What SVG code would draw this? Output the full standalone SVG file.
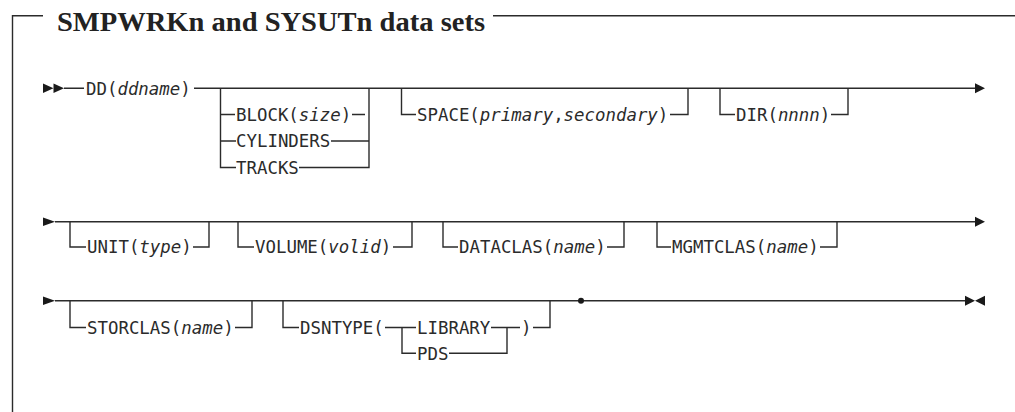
<svg xmlns="http://www.w3.org/2000/svg" width="1015" height="412" viewBox="0 0 1015 412">
<style>
.ln{fill:none;stroke:#2b2b2b;stroke-width:1.4}
.ah{fill:#1a1a1a;stroke:none}
.t{font-family:"DejaVu Sans Mono","Liberation Mono",monospace;font-size:17.4px;fill:#2b2b2b}
.i{font-style:italic}
.title{font-family:"Liberation Serif","DejaVu Serif",serif;font-weight:bold;font-size:27px;fill:#222}
</style>
<rect width="1015" height="412" fill="#fff"/>
<g id="frame">
<path class="ln" d="M12.5 412 V15.7 H43 M493 15.7 H1015"/>
<text class="title" x="57" y="30.5" textLength="428" lengthAdjust="spacingAndGlyphs">SMPWRKn and SYSUTn data sets</text>
</g>
<g id="connectors">
<polygon class="ah" points="43,83.5 53.5,88.3 43,93"/>
<polygon class="ah" points="53.5,83.5 64,88.3 53.5,93"/>
<path class="ln" d="M64 88.3 H84 M194 88.3 H976"/>
<polygon class="ah" points="975,83.3 985,88.3 975,93.3"/>
<path class="ln" d="M220.5 88.3 V167.5 H236 M220.5 114.5 H235 M220.5 141 H236"/>
<path class="ln" d="M352 114.5 H365 M331 141 H369 M299 167.5 H369 V88.3"/>
<path class="ln" d="M401.5 88.3 V114.5 H416 M670 114.5 H688 V88.3"/>
<path class="ln" d="M720 88.3 V114.5 H735 M831 114.5 H848 V88.3"/>
<polygon class="ah" points="43,217.5 55,221.7 43,226"/>
<path class="ln" d="M55 221.7 H976"/>
<polygon class="ah" points="975,216.7 985,221.7 975,226.7"/>
<path class="ln" d="M70 221.7 V247 H86 M193 247 H209 V221.7"/>
<path class="ln" d="M238 221.7 V247 H254 M393 247 H412 V221.7"/>
<path class="ln" d="M443 221.7 V247 H458 M607 247 H624 V221.7"/>
<path class="ln" d="M657 221.7 V247 H671 M820 247 H837 V221.7"/>
<polygon class="ah" points="43,296.5 55,300.7 43,305"/>
<path class="ln" d="M55 300.7 H966"/>
<polygon class="ah" points="965,295.7 975,300.7 965,305.7"/>
<polygon class="ah" points="985,295.7 975,300.7 985,305.7"/>
<circle class="ah" cx="581" cy="300.7" r="3"/>
<path class="ln" d="M70 300.7 V327.5 H86 M235 327.5 H252 V300.7"/>
<path class="ln" d="M283 300.7 V327.5 H299 M385 327.5 H416 M402 327.5 V353.3 H416"/>
<path class="ln" d="M491 327.5 H520 M507 327.5 V353.3 H449 M533 327.5 H550 V300.7"/>
</g>
<g id="n-dd"><text class="t" x="86" y="94.5">DD(<tspan class="i">ddname</tspan>)</text></g>
<g id="n-block"><text class="t" x="236" y="120.7">BLOCK(<tspan class="i">size</tspan>)</text></g>
<g id="n-cylinders"><text class="t" x="236" y="147.2">CYLINDERS</text></g>
<g id="n-tracks"><text class="t" x="236" y="173.7">TRACKS</text></g>
<g id="n-space"><text class="t" x="417" y="120.7">SPACE(<tspan class="i">primary</tspan>,<tspan class="i">secondary</tspan>)</text></g>
<g id="n-dir"><text class="t" x="736" y="120.7">DIR(<tspan class="i">nnnn</tspan>)</text></g>
<g id="n-unit"><text class="t" x="87" y="253.2">UNIT(<tspan class="i">type</tspan>)</text></g>
<g id="n-volume"><text class="t" x="255" y="253.2">VOLUME(<tspan class="i">volid</tspan>)</text></g>
<g id="n-dataclas"><text class="t" x="459" y="253.2">DATACLAS(<tspan class="i">name</tspan>)</text></g>
<g id="n-mgmtclas"><text class="t" x="672" y="253.2">MGMTCLAS(<tspan class="i">name</tspan>)</text></g>
<g id="n-storclas"><text class="t" x="87" y="333.7">STORCLAS(<tspan class="i">name</tspan>)</text></g>
<g id="n-dsntype"><text class="t" x="300" y="333.7">DSNTYPE(</text></g>
<g id="n-library"><text class="t" x="417" y="333.7">LIBRARY</text></g>
<g id="n-pds"><text class="t" x="417" y="359.5">PDS</text></g>
<g id="n-close"><text class="t" x="521" y="333.7">)</text></g>
</svg>
